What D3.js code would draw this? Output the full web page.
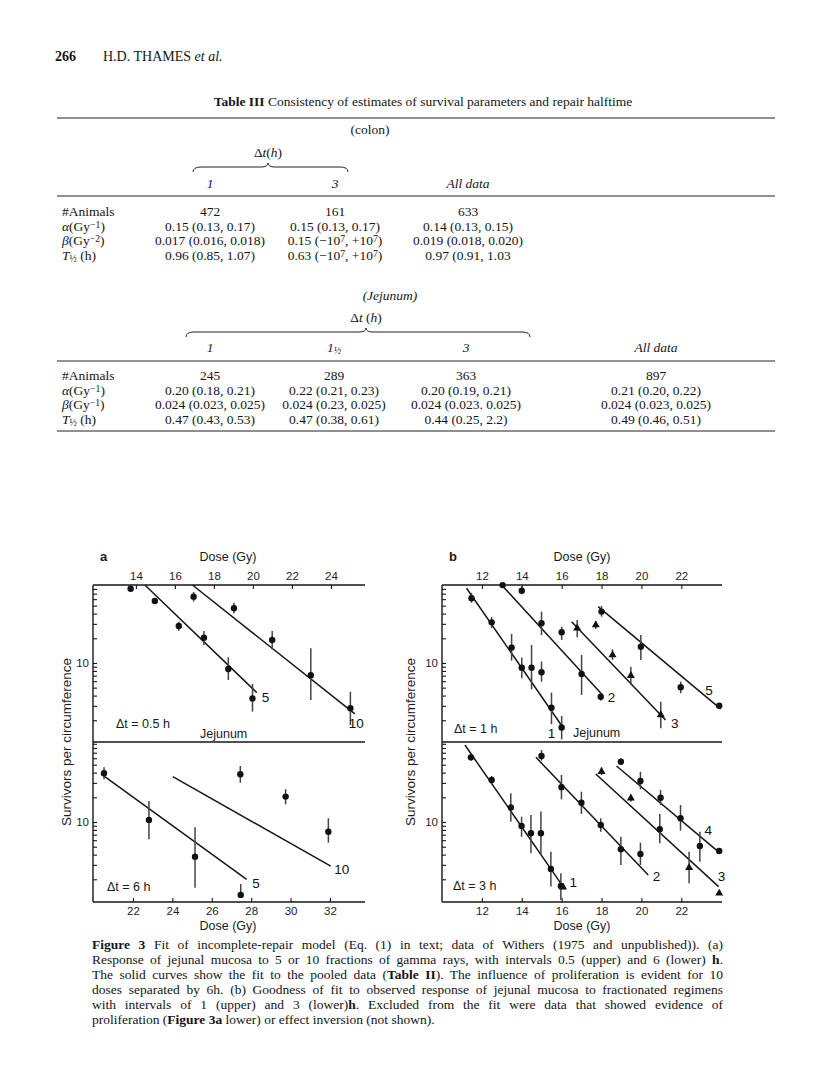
<!DOCTYPE html>
<html><head><meta charset="utf-8">
<script src="https://cdn.jsdelivr.net/npm/d3@7"></script>
<style>
body{margin:0;background:#fff;}
#cap{position:absolute;left:92px;top:937px;width:631px;font-family:"Liberation Serif","Times New Roman",serif;font-size:13.5px;line-height:15px;color:#151515;}
#cap div{text-align:justify;text-align-last:justify;white-space:nowrap;}
#cap div.last{text-align-last:left;}
</style>
</head><body>
<div id="cap"></div>
<script>
// ================= DATA =================
// Table III (colon)
const colonHeads = ["1", "3", "All data"];
const colonRows = [
  ["#Animals", "472", "161", "633"],
  ["*α*(Gy^{−1})", "0.15 (0.13, 0.17)", "0.15 (0.13, 0.17)", "0.14 (0.13, 0.15)"],
  ["*β*(Gy^{−2})", "0.017 (0.016, 0.018)", "0.15 (−10^{7}, +10^{7})", "0.019 (0.018, 0.020)"],
  ["*T*_{½} (h)", "0.96 (0.85, 1.07)", "0.63 (−10^{7}, +10^{7})", "0.97 (0.91, 1.03"]
];
// Table III (jejunum)
const jejHeads = ["1", "1_{½}", "3", "All data"];
const jejRows = [
  ["#Animals", "245", "289", "363", "897"],
  ["*α*(Gy^{−1})", "0.20 (0.18, 0.21)", "0.22 (0.21, 0.23)", "0.20 (0.19, 0.21)", "0.21 (0.20, 0.22)"],
  ["*β*(Gy^{−1})", "0.024 (0.023, 0.025)", "0.024 (0.23, 0.025)", "0.024 (0.023. 0.025)", "0.024 (0.023, 0.025)"],
  ["*T*_{½} (h)", "0.47 (0.43, 0.53)", "0.47 (0.38, 0.61)", "0.44 (0.25, 2.2)", "0.49 (0.46, 0.51)"]
];

// Figure tick labels
const aTopTicks = [14, 16, 18, 20, 22, 24];
const aBottomTicks = [22, 24, 26, 28, 30, 32];
const bTopTicks = [12, 14, 16, 18, 20, 22];
const bBottomTicks = [12, 14, 16, 18, 20, 22];
const yTicks = [2, 3, 4, 5, 6, 7, 8, 9, 10, 20, 30, 40, 50, 60, 70, 80, 90];

// points: [dose (Gy), survivors, error low, error high]
// Panel a, Δt = 0.5 h
const aUp5 = [[13.73,80.5,null,null],[14.97,57,null,null],[16.2,28.2,24.8,31.9],[17.49,20.3,16.6,24.5],[18.74,8.45,6.2,11.7],[19.98,3.7,2.55,5.55]];
const aUp10 = [[16.96,64.4,56,73.5],[19.03,46.4,40.4,54.3],[20.99,19.1,14.7,24.5],[22.97,7.1,3.54,15.1],[25.0,2.8,1.75,4.47]];
const aUpFit5 = [[14.46,89.3],[20.2,4.35]];
const aUpFit10 = [[16.9,89.3],[25.23,2.39]];
// Panel a, Δt = 6 h
const aLo5 = [[20.53,39.3,33.2,46.5],[22.81,10.6,6.15,18.0],[25.15,3.78,1.58,8.6],[27.47,1.29,1.29,1.75]];
const aLo10 = [[27.45,38.2,30.1,48.2],[29.75,20.4,16.4,25.1],[31.92,7.6,5.6,11.1]];
const aLoFit5 = [[20.41,38.2],[27.77,2.0]];
const aLoFit10 = [[24.02,35.7],[32.04,2.9]];
// Panel b, Δt = 1 h
const bUp1 = [[11.48,61.5,54.3,71.5],[12.49,31.3,26.7,36.4],[13.49,15.4,10.7,22.6],[14.0,8.77,6.5,11.7],[14.49,8.77,4.78,16.6],[14.99,7.7,5.9,10.4],[15.49,2.85,1.79,4.35],[16.0,1.63,1.17,2.26]];
const bUp2 = [[13.04,89,null,null],[14.0,76.2,68.9,89.3],[14.99,30.5,21.9,42.3],[16.0,23.7,19.1,27.7],[17.0,7.35,4.07,12.5],[17.96,3.88,3.47,4.35]];
const bUp3 = [[16.78,26.5,20.6,33.4],[17.71,29.0,26.0,32.5],[18.55,12.5,10.9,14.7],[19.47,7.0,5.4,9.0],[20.97,2.32,1.6,3.37]];
const bUp5 = [[18.0,42.3,36.7,49.5],[19.97,15.8,10.9,21.9],[21.97,5.06,4.27,5.92],[23.9,3.01,null,null]];
const bUpFit1 = [[11.23,81.5],[16.04,1.67]];
const bUpFit2 = [[12.99,89.3],[18.05,4.07]];
const bUpFit3 = [[16.5,31.9],[21.21,2.02]];
const bUpFit5 = [[17.83,48.6],[23.97,2.75]];
// Panel b, Δt = 3 h
const bLo1 = [[11.45,61.5,56,67.5],[12.49,32.5,29.0,36.4],[13.45,15.0,10.1,22.4],[13.99,8.94,6.6,11.6],[14.46,7.28,4.15,12.2],[14.96,7.28,3.96,13.4],[15.46,2.67,1.63,4.35],[15.96,1.66,1.12,2.37]];
const bLo1Tri = [[16.07,1.6,null,null]];
const bLo2 = [[14.99,63.8,56,75.5],[15.99,26.5,18.9,37.4],[16.99,17.2,12.5,23.4],[17.96,9.2,7.6,11.1],[18.97,4.65,2.99,6.62],[19.95,4.07,2.99,5.6]];
const bLo3Tri = [[18.0,41.0,37.4,46.5],[19.47,19.5,17.7,21.3],[22.39,2.77,1.79,4.35],[23.9,1.35,null,null]];
const bLo3 = [[20.92,8.15,5.5,12.5]];
const bLo4 = [[18.97,54.3,49.5,59.8],[19.95,31.6,25.1,41.0],[20.96,19.8,16.1,24.5],[21.96,11.1,7.84,16.1],[22.93,5.1,3.28,7.62],[23.9,4.43,null,null]];
const bLoFit1 = [[11.15,86.9],[16.16,1.52]];
const bLoFit2 = [[14.71,61.5],[20.34,2.26]];
const bLoFit3 = [[17.71,38.5],[23.87,1.63]];
const bLoFit4 = [[18.75,48.2],[23.85,4.35]];

// caption lines (![...] marks bold segments)
const captionLines = [
  "![Figure 3]  Fit of incomplete-repair model (Eq. (1) in text; data of Withers (1975 and unpublished)). (a)",
  "Response of jejunal mucosa to 5 or 10 fractions of gamma rays, with intervals 0.5 (upper) and 6 (lower) ![h].",
  "The solid curves show the fit to the pooled data (![Table II]). The influence of proliferation is evident for 10",
  "doses separated by 6h. (b) Goodness of fit to observed response of jejunal mucosa to fractionated regimens",
  "with intervals of 1 (upper) and 3 (lower)![h]. Excluded from the fit were data that showed evidence of",
  "proliferation (![Figure 3a] lower) or effect inversion (not shown)."
];

// ================= DRAW =================
const W = 816, H = 1085;
const SERIF = "'Liberation Serif','Times New Roman',serif";
const SANS = "'Liberation Sans',Arial,Helvetica,sans-serif";
const INK = "#151515";
const TS = 13.5; // table font size
const svg = d3.select("body").append("svg").attr("width", W).attr("height", H)
  .style("position","absolute").style("left",0).style("top",0);

function rich(sel, str) {
  const parts = str.split(/(\^\{[^}]*\}|_\{[^}]*\}|\*[^*]+\*|!\[[^\]]*\])/).filter(s => s !== "");
  parts.forEach(p => {
    if (p.startsWith("^{")) sel.append("tspan").attr("baseline-shift", "35%").attr("font-size", "72%").text(p.slice(2, -1));
    else if (p.startsWith("_{")) sel.append("tspan").attr("baseline-shift", "-22%").attr("font-size", "72%").text(p.slice(2, -1));
    else if (p.startsWith("*") && p.endsWith("*")) sel.append("tspan").attr("font-style", "italic").text(p.slice(1, -1));
    else if (p.startsWith("![")) sel.append("tspan").attr("font-weight", "bold").text(p.slice(2, -1));
    else sel.append("tspan").text(p);
  });
  return sel;
}
function txt(x, y, str, o = {}) {
  const t = svg.append("text").attr("x", x).attr("y", y)
    .attr("font-family", o.family || SERIF).attr("font-size", o.size || TS)
    .attr("fill", o.fill || INK).attr("text-anchor", o.anchor || "start");
  if (o.italic) t.attr("font-style", "italic");
  if (o.bold) t.attr("font-weight", "bold");
  rich(t, str);
  return t;
}
function hline(x1, x2, y, w = 1) {
  svg.append("line").attr("x1", x1).attr("x2", x2).attr("y1", y).attr("y2", y)
    .attr("stroke", "#222").attr("stroke-width", w);
}
function brace(x1, x2, xm, y) {
  const d = `M${x1},${y + 5} Q${x1},${y} ${x1 + 8},${y} L${xm - 7},${y} Q${xm},${y} ${xm},${y - 4} Q${xm},${y} ${xm + 7},${y} L${x2 - 8},${y} Q${x2},${y} ${x2},${y + 5}`;
  svg.append("path").attr("d", d).attr("fill", "none").attr("stroke", "#222").attr("stroke-width", 1);
}

// ---- page header ----
txt(55, 61, "266", { size: 14, bold: true });
txt(103, 61, "H.D. THAMES *et al.*", { size: 14 });

// ---- Table III ----
txt(423, 106, "![Table III]  Consistency of estimates of survival parameters and repair halftime", { anchor: "middle" });
hline(57, 775, 118, 1.2);

// colon block
const colonX = [210, 335, 468];
txt(370, 134, "(colon)", { anchor: "middle" });
txt(268, 157, "Δ*t*(*h*)", { anchor: "middle" });
brace(193, 348, 268, 167);
colonHeads.forEach((h, i) => txt(colonX[i], 188, h, { anchor: "middle", italic: true }));
hline(57, 775, 196, 1);
colonRows.forEach((r, j) => {
  const y = 216 + j * 14.5;
  txt(62, y, r[0]);
  r.slice(1).forEach((c, i) => txt(colonX[i], y, c, { anchor: "middle" }));
});

// jejunum block
const jejX = [210, 334, 466, 656];
txt(390, 300, "(Jejunum)", { anchor: "middle", italic: true });
txt(366, 322, "Δ*t* (*h*)", { anchor: "middle" });
brace(186, 530, 366, 332);
jejHeads.forEach((h, i) => txt(jejX[i], 352, h, { anchor: "middle", italic: true }));
hline(57, 775, 361, 1);
jejRows.forEach((r, j) => {
  const y = 380 + j * 14.5;
  txt(62, y, r[0]);
  r.slice(1).forEach((c, i) => txt(jejX[i], y, c, { anchor: "middle" }));
});
hline(57, 775, 431, 1.2);

// ---- Figure 3 ----
const yTop = 585, yMid = 742, yBot = 902;
const yUp = d3.scaleLog().domain([89.3, 1.087]).range([yTop, yMid]);
const yLo = d3.scaleLog().domain([94.6, 1.057]).range([yMid, yBot]);

const xaTop = d3.scaleLinear().domain([11.8, 25.75]).range([93, 365]);
const xaBot = d3.scaleLinear().domain([19.97, 33.78]).range([93, 365]);
const xb = d3.scaleLinear().domain([10, 24.04]).range([442, 722]);

const fig = svg.append("g");
const LINE = "#161616";

function frame(x0, x1) {
  const g = fig.append("g").attr("stroke", LINE).attr("stroke-width", 1.4);
  [yTop, yMid, yBot].forEach(y => g.append("line").attr("x1", x0).attr("x2", x1).attr("y1", y).attr("y2", y));
  g.append("line").attr("x1", x0).attr("x2", x0).attr("y1", yTop).attr("y2", yBot);
}
function styleAxis(g) {
  g.select(".domain").remove();
  g.selectAll(".tick line").attr("stroke", LINE).attr("stroke-width", 1.1);
  g.selectAll(".tick text").attr("font-family", SANS).attr("font-size", 11.5).attr("fill", "#1e1e1e");
}
function leftAxis(y, x0) {
  const [a, b] = d3.extent(y.domain());
  const vals = yTicks.filter(v => v >= a && v <= b);
  const g = fig.append("g").attr("transform", `translate(${x0},0)`)
    .call(d3.axisLeft(y).tickValues(vals).tickSize(-4).tickPadding(4).tickFormat(v => v === 10 ? "10" : ""));
  styleAxis(g);
}
function topAxis(x, ticks) {
  const g = fig.append("g").attr("transform", `translate(0,${yTop})`)
    .call(d3.axisTop(x).tickValues(ticks).tickSize(-4).tickPadding(5).tickFormat(d3.format("d")));
  styleAxis(g);
}
function bottomAxis(x, ticks) {
  const g = fig.append("g").attr("transform", `translate(0,${yBot})`)
    .call(d3.axisBottom(x).tickValues(ticks).tickSize(-4).tickPadding(5).tickFormat(d3.format("d")));
  styleAxis(g);
}
function fit(x, y, pts) {
  fig.append("path").datum(pts)
    .attr("d", d3.line().x(d => x(d[0])).y(d => y(d[1])))
    .attr("fill", "none").attr("stroke", LINE).attr("stroke-width", 1.5);
}
function points(x, y, data, shape) {
  const g = fig.append("g");
  g.selectAll("line.err").data(data.filter(d => d[2] != null)).join("line")
    .attr("x1", d => x(d[0])).attr("x2", d => x(d[0]))
    .attr("y1", d => y(d[2])).attr("y2", d => y(d[3]))
    .attr("stroke", "#444").attr("stroke-width", 1.5);
  if (shape === "tri") {
    g.selectAll("path.m").data(data).join("path")
      .attr("transform", d => `translate(${x(d[0])},${y(d[1])})`)
      .attr("d", d3.symbol(d3.symbolTriangle, 28)).attr("fill", "#111");
  } else {
    g.selectAll("circle").data(data).join("circle")
      .attr("cx", d => x(d[0])).attr("cy", d => y(d[1])).attr("r", 3.2).attr("fill", "#111");
  }
}
function label(x, y, pos, s) {
  fig.append("text").attr("x", x(pos[0])).attr("y", y(pos[1])).attr("dy", "0.36em")
    .attr("text-anchor", "middle").attr("font-family", SANS).attr("font-size", 13.5)
    .attr("fill", "#111").text(s);
}
function ftext(x, y, s, o = {}) {
  fig.append("text").attr("x", x).attr("y", y).attr("font-family", SANS)
    .attr("font-size", o.size || 12.5).attr("fill", "#1a1a1a")
    .attr("text-anchor", o.anchor || "start").attr("font-weight", o.bold ? "bold" : null)
    .attr("transform", o.rot ? `rotate(-90,${x},${y})` : null).text(s);
}

// Panel a
frame(93, 365);
topAxis(xaTop, aTopTicks);
bottomAxis(xaBot, aBottomTicks);
leftAxis(yUp, 93);
leftAxis(yLo, 93);
fit(xaTop, yUp, aUpFit5); fit(xaTop, yUp, aUpFit10);
points(xaTop, yUp, aUp5); points(xaTop, yUp, aUp10);
label(xaTop, yUp, [20.65, 3.88], "5");
label(xaTop, yUp, [25.3, 1.84], "10");
fit(xaBot, yLo, aLoFit5); fit(xaBot, yLo, aLoFit10);
points(xaBot, yLo, aLo5); points(xaBot, yLo, aLo10);
label(xaBot, yLo, [28.24, 1.82], "5");
label(xaBot, yLo, [32.6, 2.65], "10");
ftext(100, 561, "a", { bold: true, size: 13 });
ftext(228, 561, "Dose (Gy)", { anchor: "middle" });
ftext(228, 930, "Dose (Gy)", { anchor: "middle" });
ftext(116, 728, "Δt = 0.5 h");
ftext(200, 738, "Jejunum");
ftext(107, 891, "Δt = 6 h");
ftext(71, 742, "Survivors per circumference", { anchor: "middle", rot: true, size: 13.5 });

// Panel b
frame(442, 722);
topAxis(xb, bTopTicks);
bottomAxis(xb, bBottomTicks);
leftAxis(yUp, 442);
leftAxis(yLo, 442);
[bUpFit1, bUpFit2, bUpFit3, bUpFit5].forEach(f => fit(xb, yUp, f));
points(xb, yUp, bUp1); points(xb, yUp, bUp2); points(xb, yUp, bUp3, "tri"); points(xb, yUp, bUp5);
label(xb, yUp, [15.49, 1.39], "1");
label(xb, yUp, [18.5, 3.88], "2");
label(xb, yUp, [21.67, 1.84], "3");
label(xb, yUp, [23.39, 4.69], "5");
[bLoFit1, bLoFit2, bLoFit3, bLoFit4].forEach(f => fit(xb, yLo, f));
points(xb, yLo, bLo1); points(xb, yLo, bLo1Tri, "tri"); points(xb, yLo, bLo2);
points(xb, yLo, bLo3Tri, "tri"); points(xb, yLo, bLo3); points(xb, yLo, bLo4);
label(xb, yLo, [16.58, 1.87], "1");
label(xb, yLo, [20.76, 2.19], "2");
label(xb, yLo, [24.02, 2.19], "3");
label(xb, yLo, [23.35, 7.98], "4");
ftext(449, 561, "b", { bold: true, size: 13 });
ftext(582, 561, "Dose (Gy)", { anchor: "middle" });
ftext(582, 930, "Dose (Gy)", { anchor: "middle" });
ftext(454, 733, "Δt = 1 h");
ftext(573, 737, "Jejunum");
ftext(453, 890, "Δt = 3 h");
ftext(415, 742, "Survivors per circumference", { anchor: "middle", rot: true, size: 13.5 });

// ---- caption ----
const cap = d3.select("#cap");
captionLines.forEach((line, i) => {
  const div = cap.append("div").classed("last", i === captionLines.length - 1);
  line.split(/(!\[[^\]]*\])/).filter(s => s !== "").forEach(p => {
    if (p.startsWith("![")) div.append("b").text(p.slice(2, -1));
    else div.append("span").text(p);
  });
});
</script>
</body></html>
